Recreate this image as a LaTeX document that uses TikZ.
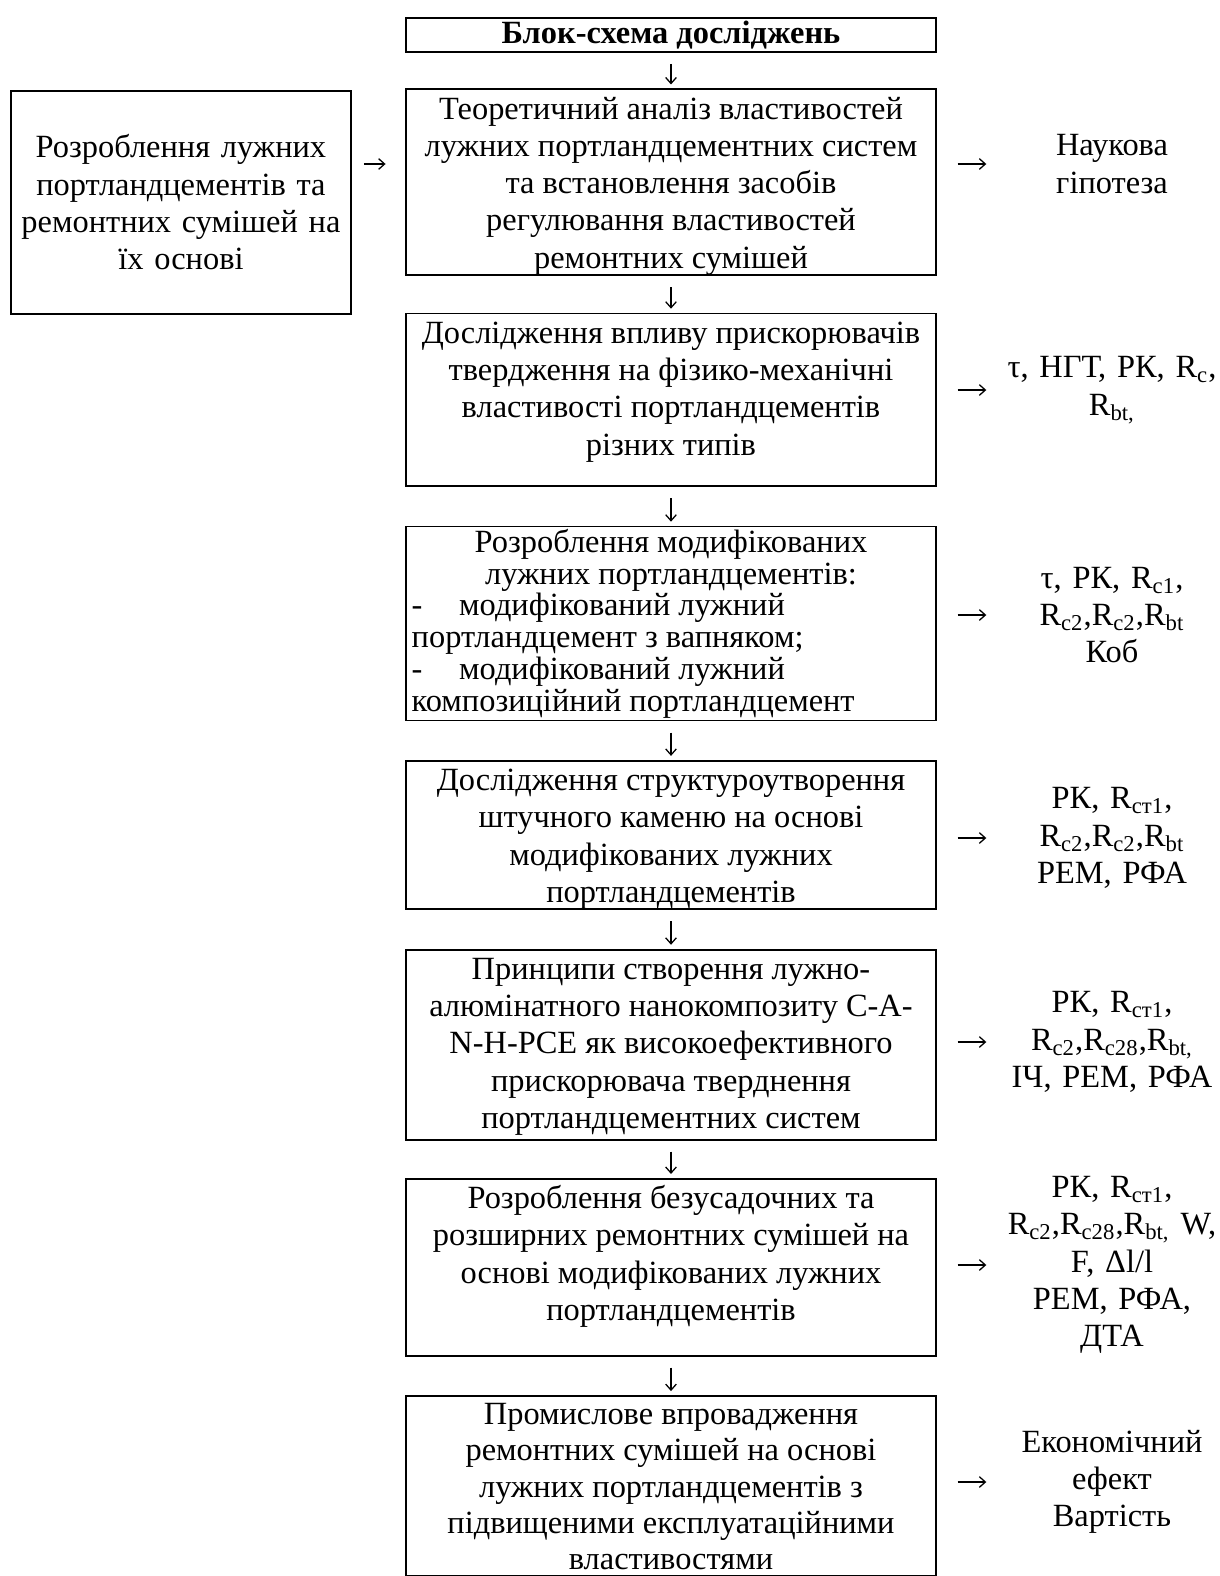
\documentclass[tikz,border=0pt]{standalone}
\usepackage{fontspec}
\setmainfont{Liberation Serif}
\usetikzlibrary{arrows.meta}

%% cell text: top aligned, fixed height
\newcommand{\celltext}[3][16.1pt]{\parbox[c][#2][t]{218pt}{\centering\baselineskip=#1\relax\rule{0pt}{0.8\baselineskip}#3}}
\newcommand{\dashitem}[1]{\makebox[218pt][l]{\hspace*{-3pt}\makebox[20.5pt][l]{-}#1}}
\newcommand{\plainitem}[1]{\makebox[218pt][l]{\hspace*{-3pt}#1}}
\newcommand{\Rs}[1]{R\textsubscript{#1}}

\tikzset{
  mainbox/.style={draw, line width=0.8pt, anchor=north, inner xsep=5.4pt, inner ysep=0pt,
    font=\fontsize{14}{16.1}\selectfont},
  titlebox/.style={draw, line width=0.8pt, anchor=north, minimum width=228.8pt, minimum height=14.7pt,
    inner sep=0pt, font=\fontsize{14}{16.1}\selectfont\bfseries},
  sidebox/.style={draw, line width=0.8pt, anchor=north west, minimum width=146.9pt, minimum height=96.3pt,
    text width=140pt, align=center, inner sep=0pt, font=\fontsize{14}{16.1}\selectfont},
  reslabel/.style={text width=100pt, align=center, inner sep=0pt, font=\fontsize{14}{16.1}\selectfont},
  flowarrow/.style={-{Straight Barb[length=2.6pt,width=4.6pt]}, line width=0.55pt}
}

\begin{document}
\begin{tikzpicture}[x=0.432pt, y=-0.432pt]
\useasboundingbox (0,0) rectangle (1219,1576);

%% main column
\node[titlebox] (title) at (671,17) {Блок-схема досліджень};
\node[mainbox] (b1) at (671,88.4) {\celltext{80.35pt}{Теоретичний аналіз властивостей\\лужних портландцементних систем\\та встановлення засобів\\регулювання властивостей\\ремонтних сумішей}};
\node[mainbox] (b2) at (671,312.6) {\celltext{74.65pt}{Дослідження впливу прискорювачів\\твердження на фізико-механічні\\властивості портландцементів\\різних типів}};
\node[mainbox] (b3) at (671,525.6) {\celltext[13.8pt]{83.8pt}{Розроблення модифікованих\\лужних портландцементів:\\\dashitem{модифікований лужний}\\\plainitem{портландцемент з вапняком;}\\\dashitem{модифікований лужний}\\\plainitem{композиційний портландцемент}}};
\node[mainbox] (b4) at (671,759.8) {\celltext{64.2pt}{Дослідження структуроутворення\\штучного каменю на основі\\модифікованих лужних\\портландцементів}};
\node[mainbox] (b5) at (671,948.7) {\celltext{82.1pt}{Принципи створення лужно-\\алюмінатного нанокомпозиту С-А-\\N-H-PCE як високоефективного\\прискорювача тверднення\\портландцементних систем}};
\node[mainbox] (b6) at (671,1177.9) {\celltext{76.4pt}{Розроблення безусадочних та\\розширних ремонтних сумішей на\\основі модифікованих лужних\\портландцементів}};
\node[mainbox] (b7) at (671,1395) {\celltext[15.6pt]{77.8pt}{Промислове впровадження\\ремонтних сумішей на основі\\лужних портландцементів з\\підвищеними експлуатаційними\\властивостями}};

%% left box
\node[sidebox] (lb) at (10,90) {Розроблення лужних\\портландцементів та\\ремонтних сумішей на\\їх основі};

%% results
\node[reslabel] (l1) at (1112,164) {Наукова\\гіпотеза};
\node[reslabel] (l2) at (1112,390) {τ, НГТ, РК, \Rs{c},\\\Rs{bt,}};
\node[reslabel] (l3) at (1112,615) {τ, РК, \Rs{c1},\\\Rs{c2},\Rs{c2},\Rs{bt}\\Коб};
\node[reslabel] (l4) at (1112,838) {РК, \Rs{ст1},\\\Rs{c2},\Rs{c2},\Rs{bt}\\РЕМ, РФА};
\node[reslabel] (l5) at (1112,1042) {РК, \Rs{ст1},\\\Rs{c2},\Rs{c28},\Rs{bt,}\\ІЧ, РЕМ, РФА};
\node[reslabel] (l6) at (1112,1265) {РК, \Rs{ст1},\\\Rs{c2},\Rs{c28},\Rs{bt,} W,\\F, Δl/l\\РЕМ, РФА,\\ДТА};
\node[reslabel] (l7) at (1112,1482) {Економічний\\ефект\\Вартість};

%% down arrows
\foreach \a/\b in {title/b1, b1/b2, b2/b3, b3/b4, b4/b5, b5/b6, b6/b7}
  \draw[flowarrow, shorten <=4.8pt, shorten >=1.7pt] (\a) -- (\b);

%% side arrows
\draw[flowarrow, shorten <=5.2pt, shorten >=8.5pt] (lb.east |- l1.west) -- (b1.west |- l1.west);
\foreach \b/\l in {b1/l1, b2/l2, b3/l3, b4/l4, b5/l5, b6/l6, b7/l7}
  \draw[flowarrow, shorten <=9pt, shorten >=4.1pt] (\b.east |- \l.west) -- (\l.west);
\end{tikzpicture}
\end{document}
